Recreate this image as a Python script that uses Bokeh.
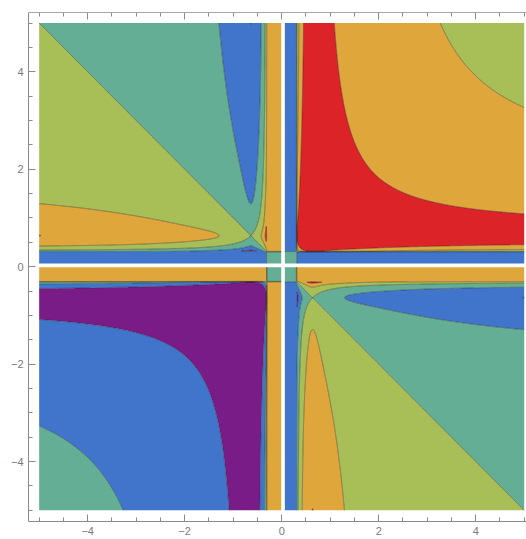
import numpy as np
from bokeh.plotting import figure
from bokeh.models import LinearAxis, FixedTicker, Range1d
from bokeh.embed import file_html
from bokeh.resources import INLINE

# ---- chart definition -------------------------------------------------
# f(x, y) = H(sin(1/x)) + H(sin(1/y)), filled contour bands between levels
LEVELS = [-2.5, -1.0, -0.5, 0.0, 0.5, 1.0, 2.5]
BAND_COLORS = ["#7a1c87", "#4175cc", "#63ae94", "#a7bf56", "#dfa73b", "#dc2327"]

X_TICKS = [-4, -2, 0, 2, 4]
X_LABELS = ["\u22124", "\u22122", "0", "2", "4"]
Y_TICKS = [-4, -2, 0, 2, 4]
Y_LABELS = ["\u22124", "\u22122", "0", "2", "4"]
MINOR_TICKS = [-5.0, -4.5, -3.5, -3.0, -2.5, -1.5, -1.0, -0.5, 0.5, 1.0, 1.5,
               2.5, 3.0, 3.5, 4.5, 5.0]

DOMAIN = (-5.0, 5.0)
PEAK_BOOST = 0.2          # sharpening of the sin(1/t) crests
# coarse sampling next to the excluded axes (as the original sampler saw it)
NEAR_AXIS_NODES = [-0.3, -0.01, 0.03, 0.065, 0.3]
EXCLUDED_NODE = 0.03
NEAR_AXIS_LIMIT = 0.3
FIRST_TRUE_NODE = 0.3183
STRIP_VALUE_NEG = 0.75    # band seen just left of / below the excluded line
STRIP_VALUE_POS = -0.75   # band seen just right of / above the excluded line
CENTER_VALUE = -0.1


def H(s):
    return s + PEAK_BOOST * s ** 17


def f(x, y):
    with np.errstate(all="ignore"):
        return H(np.sin(1.0 / x)) + H(np.sin(1.0 / y))


pos = np.concatenate([np.linspace(FIRST_TRUE_NODE, 1.0, 160)[:-1],
                      np.linspace(1.0, DOMAIN[1], 201)])
nodes = np.concatenate([-pos[::-1], NEAR_AXIS_NODES, pos])
X, Y = np.meshgrid(nodes, nodes)
Z = f(X, Y)

near_x = np.abs(X) <= NEAR_AXIS_LIMIT
near_y = np.abs(Y) <= NEAR_AXIS_LIMIT
Z = np.where(near_x & ~near_y,
             np.where(X < EXCLUDED_NODE, STRIP_VALUE_NEG, STRIP_VALUE_POS), Z)
Z = np.where(near_y & ~near_x,
             np.where(Y < EXCLUDED_NODE, STRIP_VALUE_NEG, STRIP_VALUE_POS), Z)
Z = np.where(near_x & near_y, CENTER_VALUE, Z)
Z = np.where((X == EXCLUDED_NODE) | (Y == EXCLUDED_NODE), np.nan, Z)

# ---- figure -----------------------------------------------------------
p = figure(width=526, height=539,
           x_range=Range1d(-5.22, 5.047), y_range=Range1d(-5.23, 5.216),
           output_backend="svg", toolbar_location=None,
           x_axis_type=None, y_axis_type=None,
           min_border_left=28, min_border_right=0,
           min_border_top=12, min_border_bottom=18)
p.outline_line_color = None
p.xgrid.visible = False
p.ygrid.visible = False
p.background_fill_color = "white"
p.border_fill_color = "white"

p.contour(nodes, nodes, Z, LEVELS,
          fill_color=BAND_COLORS,
          line_color="#222222", line_alpha=0.55, line_width=0.8)

AX_COL = "#8a8a8a"


def style_axis(ax):
    ax.axis_line_color = AX_COL
    ax.major_tick_line_color = AX_COL
    ax.minor_tick_line_color = AX_COL
    ax.major_tick_in = 7
    ax.major_tick_out = 0
    ax.minor_tick_in = 4
    ax.minor_tick_out = 0
    ax.major_label_text_color = "#7a7a7a"
    ax.major_label_text_font = "Liberation Sans"
    ax.major_label_text_font_size = "11px"
    ax.major_label_standoff = 5
    return ax


def labelled_axis(ticks, labels):
    ax = LinearAxis(ticker=FixedTicker(ticks=ticks, minor_ticks=MINOR_TICKS))
    ax.major_label_overrides = {t: l for t, l in zip(ticks, labels)}
    return style_axis(ax)


p.add_layout(labelled_axis(X_TICKS, X_LABELS), "below")
p.add_layout(labelled_axis(Y_TICKS, Y_LABELS), "left")

# top frame edge: tick marks only (no labels), drawn at the top of the frame
top_major = style_axis(LinearAxis(ticker=FixedTicker(ticks=[], minor_ticks=X_TICKS),
                                  fixed_location=p.y_range.end))
top_major.minor_tick_in = 7
top_minor = style_axis(LinearAxis(ticker=FixedTicker(ticks=[], minor_ticks=MINOR_TICKS),
                                  fixed_location=p.y_range.end))
p.add_layout(top_major, "above")
p.add_layout(top_minor, "above")

open("out.html", "w").write(file_html(p, INLINE))
